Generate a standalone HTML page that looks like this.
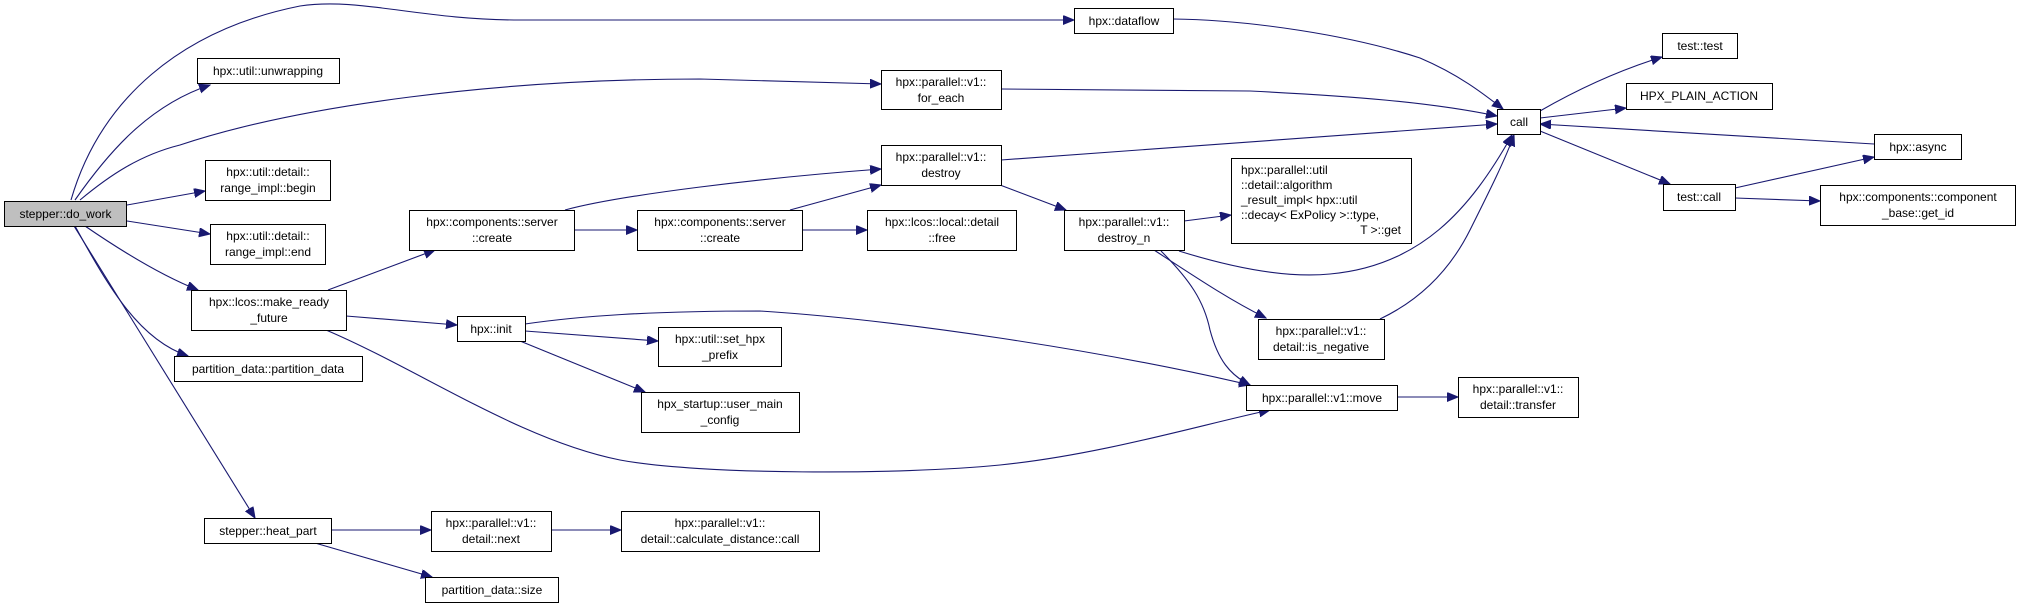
<!DOCTYPE html>
<html><head><meta charset="utf-8"><style>
html,body{margin:0;padding:0;background:#fff;}
svg{display:block;}
text{font-family:"Liberation Sans",sans-serif;font-size:12px;fill:#000;}
.b{fill:#fff;stroke:#000;stroke-width:1;}
.e{fill:none;stroke:#191970;stroke-width:1.1;}
</style></head><body>
<svg width="2020" height="609" viewBox="0 0 2020 609" xmlns="http://www.w3.org/2000/svg">
<defs><marker id="a" markerUnits="userSpaceOnUse" markerWidth="12" markerHeight="10" refX="11" refY="4.5" orient="auto"><path d="M0,0 L11,4.5 L0,9 Z" fill="#191970" stroke="#191970"/></marker></defs>
<g marker-end="url(#a)">
<path class="e" d="M71,200 C100,100 180,30 300,6 C360,-3 420,20 520,20 L1074,20"/>
<path class="e" d="M75,200 C110,150 150,105 210,85"/>
<path class="e" d="M80,200 C110,175 140,155 180,145 C300,105 500,79 700,79 L881,84"/>
<path class="e" d="M127,205 L205,191"/>
<path class="e" d="M127,221 L210,234"/>
<path class="e" d="M85,226 C120,250 160,275 198,290"/>
<path class="e" d="M75,226 C110,290 140,340 188,356"/>
<path class="e" d="M74,226 L255,518"/>
<path class="e" d="M328,290 L435,250"/>
<path class="e" d="M346,316 L457,325"/>
<path class="e" d="M326,330 C420,370 520,440 620,460 C700,475 900,475 1000,465 C1100,455 1200,425 1270,410"/>
<path class="e" d="M565,210 C620,195 760,178 881,169"/>
<path class="e" d="M574,230 L637,230"/>
<path class="e" d="M790,210 L881,185"/>
<path class="e" d="M802,230 L867,230"/>
<path class="e" d="M1001,160 C1200,145 1380,132 1497,124"/>
<path class="e" d="M1000,185 L1066,210"/>
<path class="e" d="M1173,19 C1250,20 1350,35 1420,58 C1460,75 1485,95 1503,109"/>
<path class="e" d="M1001,89 L1250,91 C1350,96 1430,102 1497,116"/>
<path class="e" d="M1184,221 L1231,215"/>
<path class="e" d="M1179,251 C1240,270 1290,278 1330,274 C1420,266 1470,210 1512,135"/>
<path class="e" d="M1154,250 C1200,280 1230,300 1266,318"/>
<path class="e" d="M1161,251 C1190,280 1204,301 1210,330 C1218,360 1230,375 1250,385"/>
<path class="e" d="M1380,319 C1420,300 1450,270 1470,230 C1490,190 1505,160 1514,135"/>
<path class="e" d="M525,331 L658,341"/>
<path class="e" d="M520,341 L645,392"/>
<path class="e" d="M525,324 C580,316 650,311 760,311 C900,320 1100,350 1250,385"/>
<path class="e" d="M1397,397 L1458,397"/>
<path class="e" d="M331,530 L431,530"/>
<path class="e" d="M315,543 L432,577"/>
<path class="e" d="M551,530 L621,530"/>
<path class="e" d="M1540,111 C1580,88 1620,70 1662,57"/>
<path class="e" d="M1540,118 L1626,108"/>
<path class="e" d="M1874,144 L1540,124"/>
<path class="e" d="M1540,131 L1670,184"/>
<path class="e" d="M1735,188 L1874,157"/>
<path class="e" d="M1735,198 L1820,201"/>
</g>
<rect x="4.5" y="201.5" width="122" height="25" fill="#bfbfbf" stroke="#000"/>
<text x="65.5" y="218" text-anchor="middle">stepper::do_work</text>
<g text-anchor="middle">
<rect class="b" x="197.5" y="58.5" width="142" height="25"/><text x="268" y="75">hpx::util::unwrapping</text>
<rect class="b" x="205.5" y="160.5" width="125" height="40"/><text x="268" y="176">hpx::util::detail::</text><text x="268" y="192">range_impl::begin</text>
<rect class="b" x="210.5" y="224.5" width="115" height="40"/><text x="268" y="240">hpx::util::detail::</text><text x="268" y="256">range_impl::end</text>
<rect class="b" x="191.5" y="290.5" width="155" height="40"/><text x="269" y="306">hpx::lcos::make_ready</text><text x="269" y="322">_future</text>
<rect class="b" x="174.5" y="356.5" width="188" height="25"/><text x="268" y="373">partition_data::partition_data</text>
<rect class="b" x="204.5" y="518.5" width="127" height="25"/><text x="268" y="535">stepper::heat_part</text>
<rect class="b" x="409.5" y="210.5" width="165" height="40"/><text x="492" y="226">hpx::components::server</text><text x="492" y="242">::create</text>
<rect class="b" x="457.5" y="316.5" width="68" height="25"/><text x="491" y="333">hpx::init</text>
<rect class="b" x="431.5" y="511.5" width="120" height="40"/><text x="491" y="527">hpx::parallel::v1::</text><text x="491" y="543">detail::next</text>
<rect class="b" x="425.5" y="577.5" width="133" height="25"/><text x="492" y="594">partition_data::size</text>
<rect class="b" x="637.5" y="210.5" width="165" height="40"/><text x="720" y="226">hpx::components::server</text><text x="720" y="242">::create</text>
<rect class="b" x="658.5" y="327.5" width="123" height="39"/><text x="720" y="343">hpx::util::set_hpx</text><text x="720" y="359">_prefix</text>
<rect class="b" x="641.5" y="392.5" width="158" height="40"/><text x="720" y="408">hpx_startup::user_main</text><text x="720" y="424">_config</text>
<rect class="b" x="621.5" y="511.5" width="198" height="40"/><text x="720" y="527">hpx::parallel::v1::</text><text x="720" y="543">detail::calculate_distance::call</text>
<rect class="b" x="1074.5" y="8.5" width="99" height="25"/><text x="1124" y="25">hpx::dataflow</text>
<rect class="b" x="881.5" y="70.5" width="120" height="39"/><text x="941" y="86">hpx::parallel::v1::</text><text x="941" y="102">for_each</text>
<rect class="b" x="881.5" y="145.5" width="120" height="40"/><text x="941" y="161">hpx::parallel::v1::</text><text x="941" y="177">destroy</text>
<rect class="b" x="867.5" y="210.5" width="149" height="40"/><text x="942" y="226">hpx::lcos::local::detail</text><text x="942" y="242">::free</text>
<rect class="b" x="1064.5" y="210.5" width="120" height="40"/><text x="1124" y="226">hpx::parallel::v1::</text><text x="1124" y="242">destroy_n</text>
<rect class="b" x="1258.5" y="319.5" width="126" height="40"/><text x="1321" y="335">hpx::parallel::v1::</text><text x="1321" y="351">detail::is_negative</text>
<rect class="b" x="1246.5" y="385.5" width="151" height="25"/><text x="1322" y="402">hpx::parallel::v1::move</text>
<rect class="b" x="1458.5" y="377.5" width="120" height="40"/><text x="1518" y="393">hpx::parallel::v1::</text><text x="1518" y="409">detail::transfer</text>
<rect class="b" x="1497.5" y="109.5" width="43" height="25"/><text x="1519" y="126">call</text>
<rect class="b" x="1662.5" y="33.5" width="75" height="25"/><text x="1700" y="50">test::test</text>
<rect class="b" x="1626.5" y="83.5" width="146" height="26"/><text x="1699" y="100">HPX_PLAIN_ACTION</text>
<rect class="b" x="1874.5" y="134.5" width="87" height="25"/><text x="1918" y="151">hpx::async</text>
<rect class="b" x="1663.5" y="184.5" width="72" height="26"/><text x="1699" y="201">test::call</text>
<rect class="b" x="1820.5" y="185.5" width="195" height="40"/><text x="1918" y="201">hpx::components::component</text><text x="1918" y="217">_base::get_id</text>
</g>
<rect class="b" x="1231.5" y="158.5" width="180" height="85"/>
<text x="1241" y="174">hpx::parallel::util</text>
<text x="1241" y="189">::detail::algorithm</text>
<text x="1241" y="204">_result_impl&lt; hpx::util</text>
<text x="1241" y="219">::decay&lt; ExPolicy &gt;::type,</text>
<text x="1401" y="234" text-anchor="end">T &gt;::get</text>
</svg>
</body></html>
